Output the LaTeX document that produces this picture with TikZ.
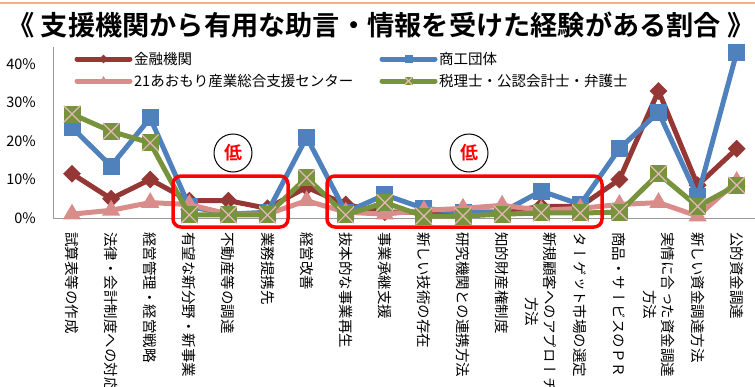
\documentclass[tikz,border=0pt]{standalone}
\usepackage{fontspec}
\setmainfont{Noto Sans CJK JP}[BoldFont={Noto Sans CJK JP Bold}]
\newfontfamily\tatefont{Noto Sans CJK JP}[Vertical={RotatedGlyphs,Alternates}]
\usepackage{tikz}
\usetikzlibrary{positioning,shapes.geometric,calc}
\definecolor{kinred}{RGB}{149,55,53}
\definecolor{shoblue}{RGB}{79,129,189}
\definecolor{aopink}{RGB}{218,140,138}
\definecolor{zeigreen}{RGB}{119,147,60}
\definecolor{xpink}{RGB}{230,185,184}
\definecolor{topline}{RGB}{244,177,131}
\tikzstyle{serline}=[line width=5bp,line join=round,line cap=round]
\tikzstyle{kinmark}=[diamond,fill=kinred,inner sep=0pt,minimum size=18bp]
\tikzstyle{shomark}=[rectangle,fill=shoblue,inner sep=0pt,minimum size=17bp]
\tikzstyle{aomark}=[regular polygon,regular polygon sides=3,fill=aopink,inner sep=0pt,minimum size=21bp]
\tikzstyle{zeimark}=[rectangle,fill=zeigreen,inner sep=0pt,minimum size=17bp,
  path picture={\draw[xpink,line width=1.2bp]
    (path picture bounding box.south west) -- (path picture bounding box.north east)
    (path picture bounding box.north west) -- (path picture bounding box.south east);}]
\tikzstyle{legtext}=[anchor=west,inner sep=0pt,font=\fontsize{14.5bp}{17bp}\selectfont]
\tikzstyle{catlabel}=[anchor=west,rotate=-90,inner sep=0pt,align=center,
  font=\fontsize{14.5bp}{18bp}\tatefont]
\tikzstyle{lowbox}=[draw=red,line width=3.5bp,rounded corners=8bp]
\tikzstyle{lowmark}=[circle,draw,line width=1bp,minimum size=38bp,inner sep=0pt,
  text=red,font=\fontsize{18bp}{18bp}\selectfont\bfseries]

\begin{document}
\begin{tikzpicture}[x=1bp,y=1bp]
\useasboundingbox (0,0) rectangle (755,386);
\draw[topline,line width=1.5bp] (0,383) -- (755,383);
\node[inner sep=0pt] (title) at (381,361) {\fontsize{27.2bp}{30bp}\selectfont\bfseries 《 支援機関から有用な助言・情報を受けた経験がある割合 》};

% axes
\coordinate (org) at (53,168);
\draw[gray!80] (53,339) -- (org) -- (755,168);
\foreach \t [count=\k from 0] in {0\%,10\%,20\%,30\%,40\%}
  \node[anchor=east,inner sep=0pt,font=\fontsize{14.5bp}{16bp}\selectfont] (tick\k) at (36,{168+38.5*\k}) {\t};

% data points
\foreach \v [count=\i] in {11.5,5,10,4.5,4.5,2.5,8,3.5,1.5,1.5,1.5,1.5,3,3,10,33,8.5,18}
  \coordinate (kin\i) at ({72+(\i-1)*39.1},{168+3.85*\v});
\foreach \v [count=\i] in {23.5,13.5,26,3,1,1.5,21,1.5,6,2.5,1.5,1.5,7,3.5,18,27.5,5.5,43}
  \coordinate (sho\i) at ({72+(\i-1)*39.1},{168+3.85*\v});
\foreach \v [count=\i] in {1,2,4,3.5,1,1,4.5,1.5,1,2,2.5,3.3,2,2.5,3.5,4,0.5,9.5}
  \coordinate (ao\i) at ({72+(\i-1)*39.1},{168+3.85*\v});
\foreach \v [count=\i] in {27,22.5,19.5,0.8,0.8,0.8,10.5,0.8,4,0.5,0.5,1,1.3,1.3,1.5,11.5,3,8.5}
  \coordinate (zei\i) at ({72+(\i-1)*39.1},{168+3.85*\v});

% series
\draw[serline,kinred] (kin1) \foreach \i in {2,...,18}{ -- (kin\i)};
\foreach \i in {1,...,18} \node[kinmark] (kinm\i) at (kin\i) {};
\draw[serline,shoblue] (sho1) \foreach \i in {2,...,18}{ -- (sho\i)};
\foreach \i in {1,...,18} \node[shomark] (shom\i) at (sho\i) {};
\draw[serline,aopink] (ao1) \foreach \i in {2,...,18}{ -- (ao\i)};
\foreach \i in {1,...,18} \node[aomark] (aom\i) at (ao\i) {};
\draw[serline,zeigreen] (zei1) \foreach \i in {2,...,18}{ -- (zei\i)};
\foreach \i in {1,...,18} \node[zeimark] (zeim\i) at (zei\i) {};

% legend
\coordinate (lg1a) at (77,327); \coordinate (lg1b) at (130,327);
\coordinate (lg2a) at (77,305); \coordinate (lg2b) at (130,305);
\coordinate (lg3a) at (382,327); \coordinate (lg3b) at (435,327);
\coordinate (lg4a) at (382,305); \coordinate (lg4b) at (435,305);
\draw[serline,kinred] (lg1a) -- (lg1b);
\node[kinmark,minimum size=9bp] (lgm1) at ($(lg1a)!0.5!(lg1b)$) {};
\node[legtext] (lgt1) at (134,327) {金融機関};
\draw[serline,aopink] (lg2a) -- (lg2b);
\node[aomark,minimum size=10bp] (lgm2) at ($(lg2a)!0.5!(lg2b)$) {};
\node[legtext] (lgt2) at (134,305) {21あおもり産業総合支援センター};
\draw[serline,shoblue] (lg3a) -- (lg3b);
\node[shomark,minimum size=8bp] (lgm3) at ($(lg3a)!0.5!(lg3b)$) {};
\node[legtext] (lgt3) at (439,327) {商工団体};
\draw[serline,zeigreen] (lg4a) -- (lg4b);
\node[zeimark,minimum size=8bp] (lgm4) at ($(lg4a)!0.5!(lg4b)$) {};
\node[legtext] (lgt4) at (439,305) {税理士・公認会計士・弁護士};

% category labels
\foreach \c [count=\i] in {{試算表等の作成},{法律・会計制度への対応},{経営管理・経営戦略},
  {有望な新分野・新事業},{不動産等の調達},{業務提携先},{経営改善},{抜本的な事業再生},
  {事業承継支援},{新しい技術の存在},{研究機関との連携方法},{知的財産権制度},
  {新規顧客へのアプローチ\\方法},{ターゲット市場の選定},{商品・サービスのＰＲ},
  {実情に合った資金調達\\方法},{新しい資金調達方法},{公的資金調達}}
  \node[catlabel] (cat\i) at ({72+(\i-1)*39.1},154) {\c};

% low regions
\draw[lowbox] (173,159) rectangle (288,210);
\draw[lowbox] (327,159) rectangle (602,210);
\node[lowmark] (low1) at (233,233) {低};
\node[lowmark] (low2) at (469,233) {低};
\end{tikzpicture}
\end{document}
